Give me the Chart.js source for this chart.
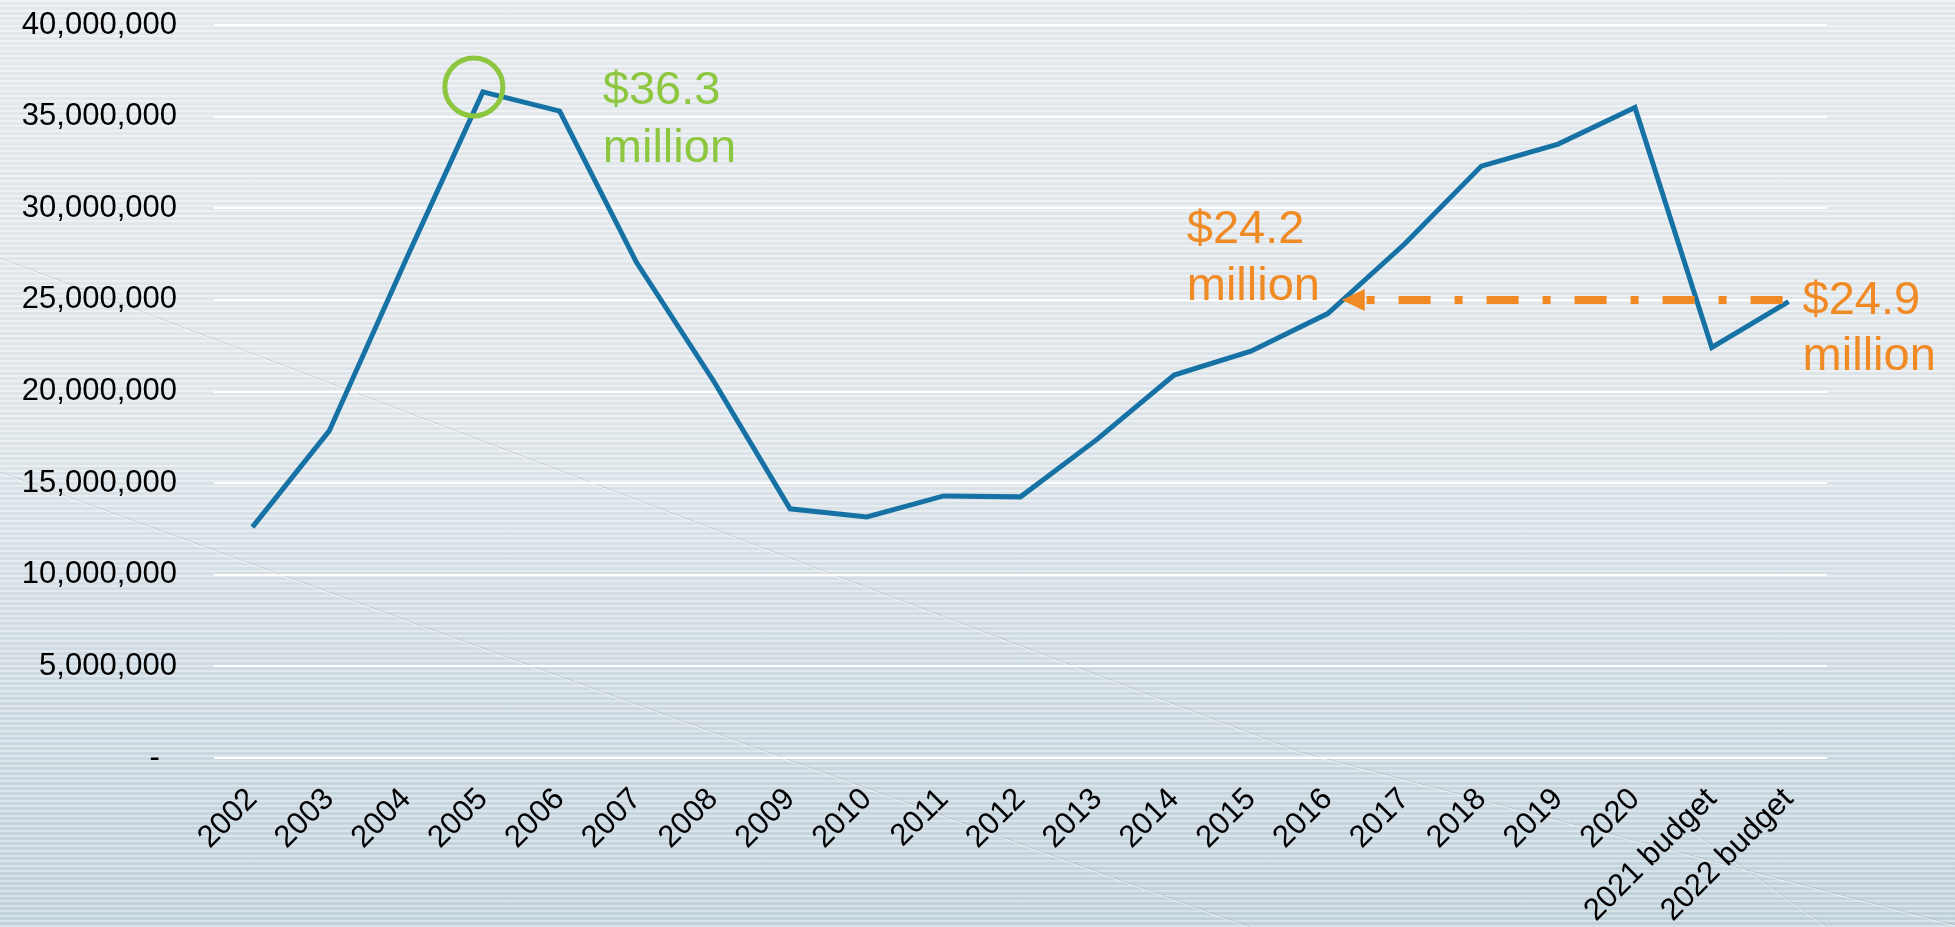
<!DOCTYPE html>
<html>
<head>
<meta charset="utf-8">
<script src="https://cdn.jsdelivr.net/npm/chart.js@4"></script>
<style>
    html, body { margin: 0; padding: 0; }
    body {
        width: 1955px;
        height: 927px;
        overflow: hidden;
        background:
            repeating-linear-gradient(180deg, rgba(255,255,255,0.30) 0px, rgba(255,255,255,0.30) 2px, rgba(110,130,145,0.05) 2px, rgba(110,130,145,0.05) 5px),
            linear-gradient(180deg, #e9edf0 0%, #e4eaee 45%, #d5e0e7 70%, #c5d5df 100%);
    }
    #wrap { position: relative; width: 1955px; height: 927px; }
</style>
</head>
<body>
<div id="wrap"><canvas id="chart"></canvas></div>
<script>
// years / budget columns along the x axis
const categories = ['2002', '2003', '2004', '2005', '2006', '2007', '2008', '2009', '2010', '2011',
    '2012', '2013', '2014', '2015', '2016', '2017', '2018', '2019', '2020', '2021 budget', '2022 budget'];

// amounts in dollars
const amounts = [12600000, 17850000, 27200000, 36350000, 35300000, 27050000, 20600000, 13600000, 13150000, 14300000,
    14250000, 17400000, 20900000, 22200000, 24250000, 28050000, 32300000, 33500000, 35500000, 22400000, 24900000];

const yTicks = [0, 5000000, 10000000, 15000000, 20000000, 25000000, 30000000, 35000000, 40000000];

const FONT = '"Liberation Sans", Arial, sans-serif';
const GREEN = '#8dc63f';
const ORANGE = '#f08a24';

function fmtTick(v) {
    // accounting style: zero shows as a dash
    if (v === 0) return '-  ';
    return v.toLocaleString('en-US');
}

// faint diagonal streaks in the backdrop
const backdropLines = {
    id: 'backdropLines',
    beforeDraw(chart) {
        const ctx = chart.ctx;
        const streaks = [
            [[0, 258], [322, 380], [1050, 657], [1300, 752], [1955, 925]],
            [[0, 472], [781, 757], [1250, 927]],
            [[1690, 830], [1827, 927]]
        ];
        ctx.save();
        ctx.lineWidth = 1;
        streaks.forEach(s => {
            [['rgba(140,150,160,0.30)', 0], ['rgba(255,255,255,0.55)', 1]].forEach(([c, dy]) => {
                ctx.strokeStyle = c;
                ctx.beginPath();
                s.forEach((p, i) => i ? ctx.lineTo(p[0], p[1] + dy) : ctx.moveTo(p[0], p[1] + dy));
                ctx.stroke();
            });
        });
        ctx.restore();
    }
};

// callouts: green circle at the peak, orange arrow and labels
const callouts = {
    id: 'callouts',
    afterDatasetsDraw(chart) {
        const ctx = chart.ctx;
        const xs = chart.scales.x, ys = chart.scales.y;
        const px = i => xs.getPixelForValue(i);
        const py = v => ys.getPixelForValue(v);
        ctx.save();

        // circle round the 2005 peak
        const peakX = px(3), peakY = py(amounts[3]);
        ctx.strokeStyle = GREEN;
        ctx.lineWidth = 5;
        ctx.beginPath();
        ctx.arc(peakX - 9, peakY - 5, 29, 0, Math.PI * 2);
        ctx.stroke();

        ctx.font = '47px ' + FONT;
        ctx.textAlign = 'left';
        ctx.textBaseline = 'alphabetic';
        ctx.fillStyle = GREEN;
        ctx.fillText('$36.3', peakX + 120, peakY + 12);
        ctx.fillText('million', peakX + 120, peakY + 70);

        // dash-dot arrow from 2022 budget back to 2016
        const lastX = px(20), lastY = py(amounts[20]);
        const lineY = py(25000000);
        const tipX = px(14) + 14;
        const baseX = tipX + 23;
        ctx.strokeStyle = ORANGE;
        ctx.lineWidth = 8;
        ctx.lineCap = 'butt';
        ctx.setLineDash([32, 24, 8, 24]);
        ctx.beginPath();
        ctx.moveTo(lastX - 6, lineY);
        ctx.lineTo(baseX, lineY);
        ctx.stroke();
        ctx.setLineDash([]);
        ctx.fillStyle = ORANGE;
        ctx.beginPath();
        ctx.moveTo(tipX, lineY);
        ctx.lineTo(baseX, lineY - 11);
        ctx.lineTo(baseX, lineY + 11);
        ctx.closePath();
        ctx.fill();

        const p16x = px(14), p16y = py(amounts[14]);
        ctx.fillText('$24.2', p16x - 141, p16y - 71);
        ctx.fillText('million', p16x - 141, p16y - 14);

        ctx.fillText('$24.9', lastX + 14, lastY + 12);
        ctx.fillText('million', lastX + 14, lastY + 68);

        ctx.restore();
    }
};

const ctx = document.getElementById('chart').getContext('2d');
const chart = new Chart(ctx, {
    type: 'line',
    data: {
        labels: categories,
        datasets: [{
            data: amounts,
            borderColor: '#1672a4',
            borderWidth: 5,
            pointRadius: 0,
            tension: 0,
            fill: false
        }]
    },
    options: {
        responsive: true,
        maintainAspectRatio: false,
        animation: false,
        layout: { padding: { left: 0, right: 128, top: 25, bottom: 0 } },
        plugins: {
            legend: { display: false },
            tooltip: { enabled: false }
        },
        scales: {
            x: {
                type: 'category',
                offset: true,
                grid: { display: false },
                border: { display: false },
                ticks: {
                    autoSkip: false,
                    minRotation: 45,
                    maxRotation: 45,
                    padding: 15,
                    color: '#000',
                    font: { family: FONT, size: 31 }
                },
                afterFit: (scale) => { scale.height = 169; }
            },
            y: {
                min: 0,
                max: 40000000,
                afterBuildTicks: (scale) => { scale.ticks = yTicks.map(v => ({ value: v })); },
                grid: { color: '#ffffff', lineWidth: 2, drawTicks: false },
                border: { display: false },
                ticks: {
                    padding: 37,
                    color: '#000',
                    font: { family: FONT, size: 31 },
                    callback: (v) => fmtTick(v)
                },
                afterFit: (scale) => {
                    scale.width = 214;
                    // keep the tick padding from pushing the plot down
                    scale.paddingTop = 0;
                    scale.paddingBottom = 0;
                }
            }
        }
    },
    plugins: [backdropLines, callouts]
});
</script>
</body>
</html>
